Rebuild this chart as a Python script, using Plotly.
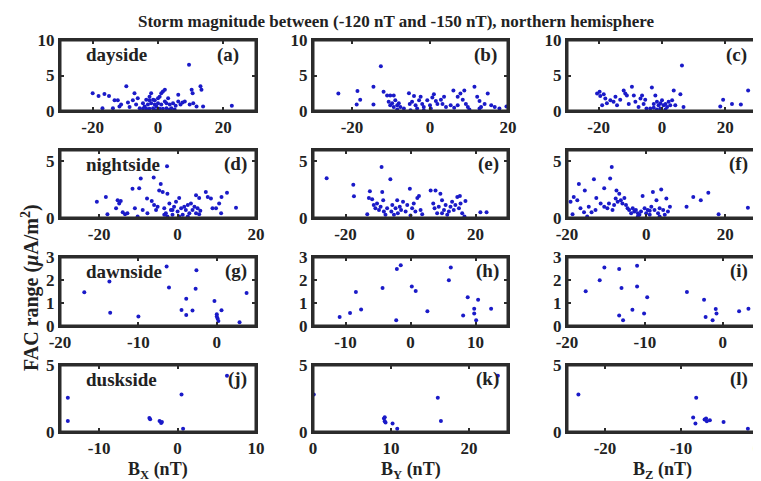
import plotly.graph_objects as go
from plotly.subplots import make_subplots

TITLE = "Storm magnitude between (-120 nT and -150 nT), northern hemisphere"
SIDES = ["dayside", "nightside", "dawnside", "duskside"]
LETTERS = ["(a)", "(b)", "(c)", "(d)", "(e)", "(f)", "(g)", "(h)", "(i)", "(j)", "(k)", "(l)"]
XLABELS = ["B<sub>X</sub> (nT)", "B<sub>Y</sub> (nT)", "B<sub>Z</sub> (nT)"]
YLABEL = "FAC range (<i>μ</i>A/m<sup>2</sup>)"

# ---- data: FAC range vs IMF component ----
a_x = [-20, -18.2, -16.4, -15, -17, -13.8, -13.3, -12.3, -11.8, -11.3, -9.7, -9.2, -8.7, -7.2, -6.7, -6.2, -5.6,
       -4.6, -4.1, -3.6, -3.1, -2.6, -2.1, -2.1, -1.5, -1.0, -0.5, 0, 0.5, 1.0, 1.5, 2.1, 1.0, 2.1, 2.6, 3.1, 3.6,
       4.1, 4.6, 5.4, 6.2, 6.2, 6.9, 7.5, 8.2, 9.5, 10.3, 10.6, 9.7, 10.8, 13.0, 13.3, 11.8, 13.8, 22.6, -7.7, -1.5,
       -2.6, 0.5, 1.5, -3.6, -0.7, -4.6, 2.6, -1.0, -2.6, 0, 3.6, 5.1]
a_y = [2.5, 2.1, 2.4, 2.1, 0.4, 0.4, 1.5, 1.5, 0.65, 0.9, 3.5, 1.2, 0.55, 2.5, 0.9, 1.8, 0.4,
       1.1, 0.65, 1.6, 0.9, 2.0, 2.5, 1.1, 0.4, 1.5, 0.65, 1.1, 2.0, 2.5, 2.75, 3.0, 0.9, 1.35, 0.4, 1.8, 0.9,
       0.4, 1.1, 0.75, 2.3, 1.35, 0.9, 1.2, 1.35, 6.5, 3.0, 2.5, 0.9, 1.1, 3.5, 3.0, 0.65, 0.65, 0.75, 1.5, 1.6,
       0.3, 0.3, 0.3, 0.3, 0.1, 0.3, 1.1, 0.9, 1.5, 1.8, 0.2, 0.2]

b_x = [-23.5, -18.6, -18.8, -17.9, -14.5, -14.5, -12.6, -11.9, -11.0, -10.2, -9.3, -10.6, -10.2, -9.7, -9.3, -8.9,
       -8.4, -8.0, -7.6, -6.7, -5.4, -5.2, -4.6, -4.1, -3.7, -3.3, -2.8, -2.4, -2.0, -1.6, -0.7, 0, 0.2, 0.6, 1.0,
       1.5, 1.9, 2.8, 3.2, 3.6, 4.1, 6.0, 7.1, 7.1, 7.8, 8.4, 8.8, 9.2, 9.7, 10.1, 11.4, 12.1, 12.7, 13.1, 14.0,
       14.8, 15.7, 16.6, 17.8, 19.6, 12.7, -1.6, -5.0, -8.4, 5.3, 6.2]
b_y = [2.45, 2.8, 0.9, 1.6, 3.4, 0.9, 6.3, 2.7, 2.2, 2.2, 2.2, 1.3, 0.8, 1.1, 0.55, 1.5,
       0.8, 1.1, 0.55, 0.35, 2.5, 1.0, 1.3, 2.1, 0.8, 0.35, 1.5, 2.0, 1.0, 0.55, 1.5, 0.8, 0.35, 1.9, 2.35,
       1.4, 1.0, 1.6, 1.0, 2.0, 0.55, 2.9, 2.0, 0.8, 2.45, 1.6, 2.9, 1.0, 0.55, 0.2, 3.4, 2.0, 1.4, 0.55, 1.0,
       2.45, 0.8, 0.55, 0.35, 0.65, 0.35, 0.1, 0.1, 0.2, 0.8, 0.45]

c_x = [-20.5, -19.5, -18.4, -19.7, -17.9, -18.9, -17.4, -16.3, -15.3, -14.7, -14.2, -13.2, -12.1, -11.6, -11.1,
       -10.5, -9.5, -8.9, -8.4, -7.4, -6.8, -6.3, -5.8, -5.3, -4.9, -3.2, -2.1, -2.6, -1.6, -1.1, -0.5, 0, 0.5,
       1.1, 1.6, 2.1, 2.6, 3.2, 3.7, 4.2, 5.8, 6.3, 6.8, -0.5, -1.6, 1.1, -2.6, -3.7, 18.4, 19.3, 22.1, 24.9, 27.2]
c_y = [2.45, 2.1, 2.35, 2.7, 1.75, 0.8, 1.1, 1.5, 1.3, 2.0, 0.8, 1.6, 2.9, 2.45, 2.2,
       1.0, 3.4, 2.2, 1.3, 0.55, 1.75, 2.2, 1.0, 1.6, 0.35, 3.3, 2.2, 1.0, 1.3, 0.8, 1.1, 1.5, 0.8,
       1.0, 0.55, 1.3, 0.8, 1.5, 2.9, 0.8, 2.35, 6.4, 0.55, 0.35, 0.2, 0.2, 0.45, 0.35, 0.65, 1.6, 1.0, 0.9, 2.9]

d_x = [-20.6, -18.3, -17.9, -15.7, -15.3, -14.9, -14.5, -14.0, -13.4, -12.8, -11.5, -10.9, -10.2, -9.8, -9.4,
       -8.9, -7.8, -7.7, -6.6, -6.1, -6.0, -5.5, -5.1, -4.7, -4.3, -3.8, -3.4, -3.0, -2.7, -2.6, -2.1, -1.7,
       -1.3, -0.9, -0.4, 0, 0.4, 0.9, 1.3, 1.7, 2.1, 2.6, 3.0, 3.4, 3.8, 4.3, 4.7, 5.1, 5.5, 5.8, 4.7, 5.5,
       7.2, 7.7, 8.5, 8.9, 9.8, 10.6, 11.1, 11.2, 12.6, 14.9, -3.4, -2.6, -1.3, 0.4, 2.6]
d_y = [1.43, 1.86, 0.34, 0.86, 1.57, 1.29, 1.49, 0.51, 0.34, 0.43, 2.57, 0.86, 0.14, 2.63, 3.49,
       0.71, 1.71, 0.43, 1.49, 3.57, 1.14, 0.71, 1.0, 2.43, 3.0, 2.29, 0.86, 0.43, 4.57, 2.14, 1.29, 0.71,
       0.29, 1.0, 1.43, 0.57, 1.77, 0.86, 0.29, 1.0, 0.71, 1.14, 0.43, 1.29, 0.71, 1.0, 0.43, 0.86, 0.34, 0.63,
       2.0, 1.77, 2.29, 1.86, 1.71, 0.86, 0.86, 1.29, 0.43, 1.86, 2.23, 0.91, 0.29, 0.14, 0.71, 0.14, 0.14]

e_x = [-25.8, -17.6, -17.4, -13.3, -12.5, -12.8, -11.8, -11.3, -10.8, -10.3, -9.7, -9.2, -8.9, -8.7, -8.4, -8.2,
       -7.7, -7.2, -6.2, -5.9, -5.6, -5.1, -4.6, -4.1, -3.9, -3.3, -2.9, -2.3, -1.5, -1.0, -0.2, 0, 0.5, 1.0,
       1.5, 2.1, 2.6, 3.1, 3.6, 6.2, 7.0, 7.4, 7.7, 8.2, 8.7, 9.2, 9.7, 10.3, 10.8, 11.3, 11.8, 12.3, 12.8, 13.3,
       13.8, 14.4, 14.9, 15.4, 15.9, 16.6, 16.9, 21.5, 23.4, 15.2, 9.7]
e_y = [3.51, 2.94, 1.91, 0.34, 2.37, 1.77, 1.66, 1.14, 0.86, 1.29, 0.71, 1.0, 4.51, 2.29, 1.57, 0.57,
       0.29, 0.86, 3.43, 0.57, 1.14, 0.29, 0.86, 1.57, 0.43, 1.0, 0.71, 1.43, 0.57, 1.14, 2.57, 0.23, 0.86, 1.29,
       0.57, 1.77, 1.94, 0.71, 0.34, 2.43, 1.29, 0.86, 2.43, 0.43, 1.0, 2.14, 1.57, 0.71, 1.14, 0.29, 0.57, 1.0,
       1.43, 0.71, 1.14, 1.86, 0.86, 1.29, 0.43, 0.14, 1.49, 0.51, 0.51, 1.94, 0.43]

f_x = [-19.1, -18.3, -18.6, -17.0, -17.4, -16.6, -15.7, -15.5, -14.9, -14.5, -13.8, -13.2, -12.8, -12.6, -11.5,
       -10.6, -10.6, -9.8, -9.4, -9.1, -8.7, -8.5, -8.1, -7.7, -7.5, -7.2, -6.8, -6.4, -6.0, -5.5, -5.1, -4.7,
       -4.3, -3.8, -3.4, -3.0, -2.6, -2.1, -1.7, -1.3, -0.9, -0.4, 0, 0.4, 0.9, 1.3, 1.7, 2.1, 2.6, 3.0, 3.4,
       3.8, 4.3, 4.7, 5.1, 5.5, 6.0, 10.2, 11.9, 13.8, 15.7, 18.3, 25.7, -2.1, 0.9, 3.4]
f_y = [1.43, 1.86, 0.34, 3.0, 1.57, 0.86, 0.51, 2.43, 0.14, 1.0, 0.51, 3.43, 0.71, 1.77, 1.29,
       2.63, 1.0, 0.86, 1.29, 3.49, 4.51, 0.71, 1.14, 1.71, 2.43, 1.43, 2.14, 1.57, 1.29, 1.77, 1.14, 0.86,
       0.71, 0.43, 0.86, 0.57, 0.71, 0.43, 0.29, 0.57, 1.94, 0.86, 0.43, 0.71, 0.29, 1.0, 2.29, 0.71, 1.57, 0.43, 0.86,
       2.51, 0.71, 0.29, 1.71, 0.57, 1.0, 1.0, 1.86, 1.57, 2.23, 0.34, 0.91, 0.14, 0.63, 0.14]

g_x = [-16.9, -13.7, -13.6, -10.0, -6.4, -6.1, -4.5, -3.9, -3.9, -3.1, -2.7, -2.6, -0.3, 0, 0.1, 0.2, 0.6, 2.9, 3.8, 0]
g_y = [1.47, 1.94, 0.58, 0.41, 2.59, 1.67, 0.70, 1.18, 0.48, 0.67, 1.62, 2.42, 1.09, 0.51, 0.33, 0.22, 0.68, 0.16, 1.43, 0.41]

h_x = [-10.9, -9.3, -8.4, -7.6, -4.3, -2.2, -2.1, -1.5, 0.2, 0.8, 2.6, 5.9, 6.2, 8.1, 8.8, 9.8, 9.8, 10.1, 10.4, 12.4]
h_y = [0.39, 0.57, 1.48, 0.72, 1.65, 0.25, 2.48, 2.64, 1.72, 1.52, 0.64, 1.99, 2.54, 0.46, 1.25, 0.75, 0.54, 0.25, 1.14, 0.75]

i_x = [-17.6, -15.8, -15.2, -13.3, -13.3, -13.0, -12.8, -11.6, -11.0, -11.0, -10.1, -9.7, -4.6, -2.4, -2.2, -1.3, -0.9, -0.8, 2.1, 3.3]
i_y = [1.51, 1.99, 2.54, 2.48, 0.46, 1.65, 0.25, 0.71, 2.62, 1.72, 0.54, 1.25, 1.48, 1.14, 0.39, 0.25, 0.74, 0.54, 0.64, 0.75]

j_x = [-14.0, -14.0, -3.6, -3.5, -2.3, -2.1, 0.5, 0.7, 6.3, -2.0]
j_y = [2.55, 0.83, 1.05, 0.95, 0.83, 0.68, 2.8, 0.25, 4.2, 0.75]

k_x = [0.1, 9.1, 9.2, 9.2, 10.2, 10.8, 16.0, 16.4, 23.7, 9.3]
k_y = [2.8, 1.0, 0.8, 1.1, 0.63, 0.25, 2.55, 0.83, 4.2, 0.7]

l_x = [-23.5, -8.4, -8.1, -8.0, -6.9, -6.7, -6.2, -4.4, -1.2, -6.6]
l_y = [2.8, 1.08, 0.63, 2.55, 0.93, 1.0, 0.88, 0.75, 0.25, 0.8]

PANELS_X = [a_x, b_x, c_x, d_x, e_x, f_x, g_x, h_x, i_x, j_x, k_x, l_x]
PANELS_Y = [a_y, b_y, c_y, d_y, e_y, f_y, g_y, h_y, i_y, j_y, k_y, l_y]

XRANGES = [[-30, 30], [-30, 20], [-30, 30],
           [-30, 20], [-30, 30], [-20, 28],
           [-20, 5], [-15, 15], [-20, 4.4],
           [-15, 10], [0, 25], [-25, 0]]
XTICKS = [[-20, 0, 20], [-20, 0, 20], [-20, 0, 20],
          [-20, 0, 20], [-20, 0, 20], [-20, 0, 20],
          [-20, -10, 0], [-10, 0, 10], [-20, -10, 0],
          [-10, 0, 10], [0, 10, 20], [-20, -10, 0]]
YRANGES = [[0, 10], [0, 6], [0, 3], [0, 5]]
YTICKS = [[0, 5, 10], [0, 5], [0, 1, 2, 3], [0, 5]]

# ---- layout geometry (pixels of the 761x481 page) ----
W, H = 761, 481
M = 2
COLS_PX = [(52, 248), (305, 500), (559, 749)]
ROWS_PX = [(32, 103), (142, 210), (249, 318), (357, 424)]
LETTER_INSET = [15, 9, 8, 7, 7, 7, 7, 7, 7, 7, 7, 7]   # px from the right edge

FONT = "Liberation Serif"
INK = "#222222"
DOT = "#1a1ac8"
FRAME = "#2b2b2b"


def fx(px):
    return (px - M) / (W - 2 * M)


def fy(py):
    return 1 - (py - M) / (H - 2 * M)


fig = make_subplots(rows=4, cols=3)

annotations = []
for idx in range(12):
    r, c = divmod(idx, 3)
    px0, px1 = COLS_PX[c]
    py0, py1 = ROWS_PX[r]
    xlo, xhi = XRANGES[idx]
    ylo, yhi = YRANGES[r]
    fig.add_trace(go.Scatter(
        x=PANELS_X[idx], y=PANELS_Y[idx], mode="markers",
        marker=dict(color=DOT, size=4),
        hoverinfo="x+y",
    ), row=r + 1, col=c + 1)
    fig.add_trace(go.Scatter(
        x=[xlo, xhi, xhi, xlo, xlo], y=[ylo, ylo, yhi, yhi, ylo], mode="lines",
        line=dict(color=FRAME, width=3), hoverinfo="skip",
    ), row=r + 1, col=c + 1)
    fig.update_xaxes(domain=[fx(px0), fx(px1)], range=XRANGES[idx], tickvals=XTICKS[idx],
                     ticktext=[f"<b>{v}</b>" for v in XTICKS[idx]], row=r + 1, col=c + 1)
    fig.update_yaxes(domain=[fy(py1), fy(py0)], range=YRANGES[r], tickvals=YTICKS[r],
                     ticktext=[f"<b>{v}</b>" for v in YTICKS[r]], row=r + 1, col=c + 1)
    ymid = fy(py0 + 0.21 * (py1 - py0))
    annotations.append(dict(
        text=f"<b>{LETTERS[idx]}</b>", xref="paper", yref="paper",
        x=fx(px1 - LETTER_INSET[idx]), y=ymid, xanchor="right", yanchor="middle",
        showarrow=False, font=dict(family=FONT, size=19, color=INK)))
    if c == 0:
        annotations.append(dict(
            text=f"<b>{SIDES[r]}</b>", xref="paper", yref="paper",
            x=fx(px0 + 24), y=ymid, xanchor="left", yanchor="middle",
            showarrow=False, font=dict(family=FONT, size=19, color=INK)))

fig.update_xaxes(showgrid=False, zeroline=False, showline=True, linecolor=FRAME, linewidth=2,
                 mirror="ticks", ticks="inside", ticklen=4, tickwidth=1.5, tickcolor=FRAME,
                 automargin=False, tickfont=dict(family=FONT, size=17, color=INK))
fig.update_yaxes(showgrid=False, zeroline=False, showline=True, linecolor=FRAME, linewidth=2,
                 mirror="ticks", ticks="inside", ticklen=4, tickwidth=1.5, tickcolor=FRAME,
                 automargin=False, tickfont=dict(family=FONT, size=17, color=INK))

for c in range(3):
    px0, px1 = COLS_PX[c]
    annotations.append(dict(
        text=f"<b>{XLABELS[c]}</b>", xref="paper", yref="paper",
        x=fx((px0 + px1) / 2), y=fy(462), xanchor="center", yanchor="middle",
        showarrow=False, font=dict(family=FONT, size=18, color=INK)))

annotations.append(dict(
    text=f"<b>{YLABEL}</b>", xref="paper", yref="paper", x=fx(22), y=fy(280),
    xanchor="center", yanchor="middle", textangle=-90, showarrow=False,
    font=dict(family=FONT, size=20, color=INK)))

annotations.append(dict(
    text=f"<b>{TITLE}</b>", xref="paper", yref="paper", x=fx(388), y=fy(14),
    xanchor="center", yanchor="middle", showarrow=False,
    font=dict(family=FONT, size=17, color=INK)))

fig.update_layout(
    template="simple_white",
    width=W, height=H, margin=dict(l=M, r=M, t=M, b=M, pad=0, autoexpand=False),
    paper_bgcolor="white", plot_bgcolor="white", showlegend=False,
    font=dict(family=FONT, size=16, color=INK),
    annotations=annotations,
)
fig.write_html("out.html")
